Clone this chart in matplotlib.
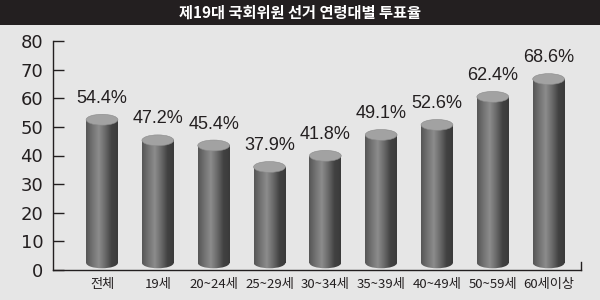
import numpy as np
import matplotlib
matplotlib.use("Agg")
import matplotlib.pyplot as plt
from matplotlib.patches import Rectangle, Ellipse
from matplotlib.colors import LinearSegmentedColormap

plt.rcParams['font.family'] = ['Noto Sans CJK KR', 'DejaVu Sans']

title = '제19대 국회위원 선거 연령대별 투표율'
categories = ['전체', '19세', '20~24세', '25~29세', '30~34세', '35~39세', '40~49세', '50~59세', '60세이상']
turnout = [54.4, 47.2, 45.4, 37.9, 41.8, 49.1, 52.6, 62.4, 68.6]
yticks = [0, 10, 20, 30, 40, 50, 60, 70, 80]

bg = '#e6e6e6'
ink = '#231f20'

fig = plt.figure(figsize=(6, 3), dpi=100, facecolor=bg)
ax = fig.add_axes([53 / 600, 30 / 300, 528 / 600, 229 / 300])
ax.set_facecolor(bg)
ax.set_xlim(-0.878, 8.58)
ax.set_ylim(0, 80)

# cylinder shading
cmap = LinearSegmentedColormap.from_list('cyl', ['#555555', '#727272', '#8c8c8c', '#6a6a6a', '#424242', '#3a3a3a'])
grad = np.linspace(0, 1, 256).reshape(1, -1)
w = 0.57
eh = 3.8  # ellipse height in data units

for i, v in enumerate(turnout):
    x0, x1 = i - w / 2, i + w / 2
    bot = 0.6 + eh / 2
    top = v - eh / 2
    body = Rectangle((x0, bot), w, top - bot, facecolor='none', edgecolor='none')
    base = Ellipse((i, bot), w, eh, facecolor='none', edgecolor='none')
    ax.add_patch(body)
    ax.add_patch(base)
    for clip in (body, base):
        im = ax.imshow(grad, cmap=cmap, extent=(x0, x1, 0, top), aspect='auto', zorder=2)
        im.set_clip_path(clip)
    ax.add_patch(Ellipse((i, top), w, eh, facecolor='#a2a2a2', edgecolor='#8a8a8a', lw=0.4, zorder=3))
    ax.text(i, v + 5.6, f'{v}%', ha='center', va='center', fontsize=13,
            family=['Liberation Sans', 'DejaVu Sans'], color=ink)

ax.set_xticks(range(len(categories)))
ax.set_xticklabels(categories, fontsize=9.5, color=ink)
ax.tick_params(axis='x', length=0, pad=6)
ax.set_yticks(yticks)
ax.set_yticklabels([str(t) for t in yticks], fontsize=13, color=ink,
                   family=['DejaVu Sans'])
ax.tick_params(axis='y', direction='in', length=8, width=1, color=ink, pad=7)
for s in ('top', 'right'):
    ax.spines[s].set_visible(False)
for s in ('left', 'bottom'):
    ax.spines[s].set_color(ink)
    ax.spines[s].set_linewidth(1)
ax.plot([1, 1], [0, 0.035], transform=ax.transAxes, color=ink, lw=1, clip_on=False)

# title bar
fig.patches.append(Rectangle((0, 275 / 300), 1, 25 / 300, transform=fig.transFigure,
                             facecolor=ink, edgecolor='none'))
fig.text(0.5, 287 / 300, title, ha='center', va='center', color='white',
         fontsize=11, fontweight='bold')

fig.savefig('out.png', dpi=100, facecolor=bg)
